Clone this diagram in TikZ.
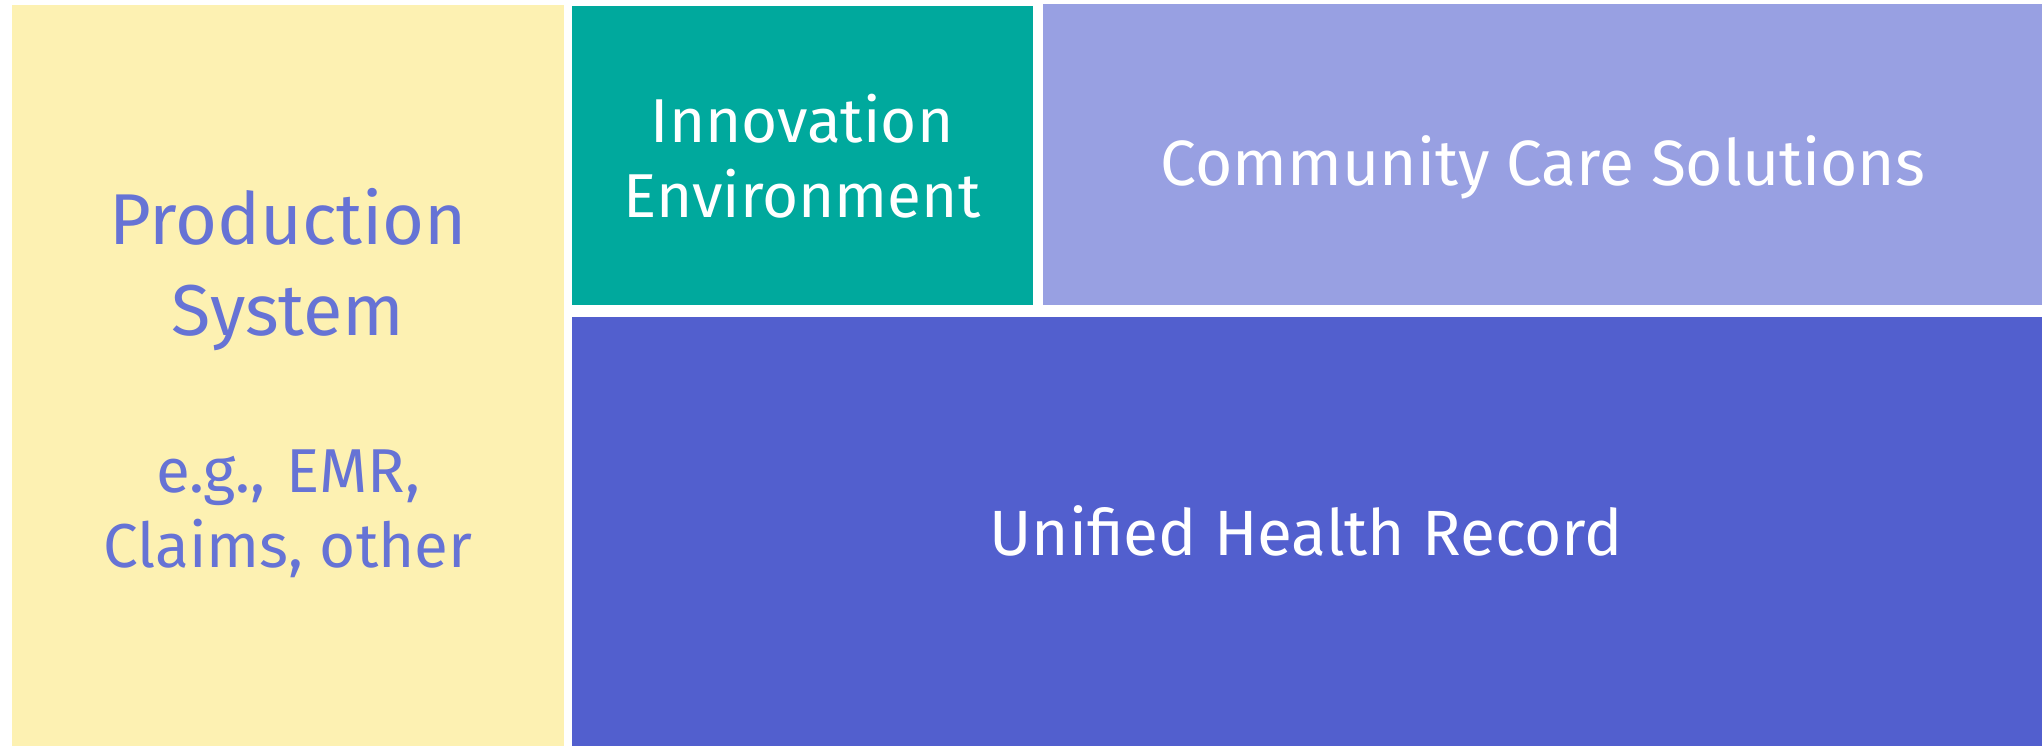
\documentclass[tikz,border=0pt]{standalone}
\usepackage{fontspec}
\setmainfont{Fira Sans}
\definecolor{ylw}{HTML}{FDF1B2}
\definecolor{tealc}{HTML}{00A99D}
\definecolor{lpur}{HTML}{98A0E2}
\definecolor{blu}{HTML}{525FCE}
\definecolor{ptxt}{HTML}{6673D5}
\tikzset{
  lbl/.style={anchor=base, inner sep=0pt, outer sep=0pt},
}
\begin{document}
\begin{tikzpicture}[x=0.5pt, y=-0.5pt]
\fill[white] (0,0) rectangle (2042,746);
\useasboundingbox (0,0) rectangle (2042,746);
\fill[ylw] (12,5) rectangle (564,746);
\fill[tealc] (572,6) rectangle (1033,305);
\fill[lpur] (1043,4) rectangle (2042,305);
\fill[blu] (572,317) rectangle (2042,746);
\node[lbl, text=ptxt, font=\fontsize{36}{40}\selectfont] (p1) at (288,244) {Production};
\node[lbl, text=ptxt, font=\fontsize{36}{40}\selectfont] (p2) at (288,335) {System};
\node[lbl, text=ptxt, font=\fontsize{31}{36}\selectfont, text width=400pt, align=center] (p3) at (288,492) {e.g., EMR,};
\node[lbl, text=ptxt, font=\fontsize{31}{36}\selectfont] (p4) at (288,567) {Claims, other};
\node[lbl, text=white, font=\fontsize{31}{36}\selectfont] (i1) at (802,142) {Innovation};
\node[lbl, text=white, font=\fontsize{31}{36}\selectfont] (i2) at (802,217) {Environment};
\node[lbl, text=white, font=\fontsize{32}{37}\selectfont] (c1) at (1543,185) {Community Care Solutions};
\node[lbl, text=white, font=\fontsize{32}{37}\selectfont] (u1) at (1306,555) {Unified Health Record};
\end{tikzpicture}
\end{document}
